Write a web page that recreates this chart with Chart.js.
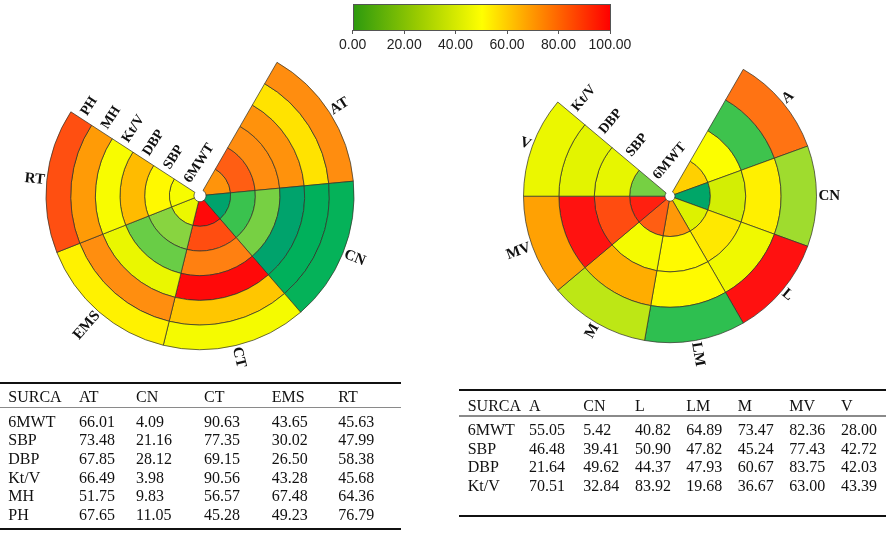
<!DOCTYPE html>
<html><head><meta charset="utf-8">
<script src="https://cdn.jsdelivr.net/npm/chart.js@4.4.1/dist/chart.umd.min.js"></script>
<style>
html,body{margin:0;padding:0;background:#fff;}
#wrap{position:relative;width:886px;height:540px;overflow:hidden;font-family:"Liberation Serif","Times New Roman",serif;}
canvas{position:absolute;}
.t{position:absolute;font-size:16px;line-height:18px;white-space:nowrap;color:#111;}
.rule{position:absolute;background:#111;}
.cb{position:absolute;font-family:"Liberation Sans",Arial,sans-serif;font-size:14px;line-height:16px;color:#222;transform:translateX(-50%);white-space:nowrap;}
.tick{position:absolute;width:1px;height:4px;background:#555;top:30px;}
</style></head><body><div id="wrap">
<div id="bar" style="position:absolute;left:352.5px;top:4px;width:258px;height:27px;box-sizing:border-box;border:1px solid #555;background:linear-gradient(to right,#2e9a0e 0%,#9acb00 25%,#ffff00 50%,#ffa000 68%,#ff5a00 82%,#ff0000 100%);"></div>
<canvas id="cl" width="398" height="412" style="left:1px;top:0px;width:398px;height:412px;"></canvas>
<canvas id="cr" width="400" height="412" style="left:470px;top:0px;width:400px;height:412px;"></canvas>
</div>
<script>
// ---- colour bar ticks ----
const barTicks = [0, 20, 40, 60, 80, 100];

// ---- left chart (and table) ----
const leftSectors = ['AT', 'CN', 'CT', 'EMS', 'RT'];
const leftWeights = [1, 1, 1, 1, 1];
const leftRings = ['6MWT', 'SBP', 'DBP', 'Kt/V', 'MH', 'PH'];
const L_6MWT = [66.01, 4.09, 90.63, 43.65, 45.63];
const L_SBP  = [73.48, 21.16, 77.35, 30.02, 47.99];
const L_DBP  = [67.85, 28.12, 69.15, 26.50, 58.38];
const L_KtV  = [66.49, 3.98, 90.56, 43.28, 45.68];
const L_MH   = [51.75, 9.83, 56.57, 67.48, 64.36];
const L_PH   = [67.65, 11.05, 45.28, 49.23, 76.79];

// ---- right chart (and table) ----
const rightSectors = ['A', 'CN', 'L', 'LM', 'M', 'MV', 'V'];
const rightWeights = [1, 1, 1, 1, 1, 1, 1];
const rightRings = ['6MWT', 'SBP', 'DBP', 'Kt/V'];
const R_6MWT = [55.05, 5.42, 40.82, 64.89, 73.47, 82.36, 28.00];
const R_SBP  = [46.48, 39.41, 50.90, 47.82, 45.24, 77.43, 42.72];
const R_DBP  = [21.64, 49.62, 44.37, 47.93, 60.67, 83.75, 42.03];
const R_KtV  = [70.51, 32.84, 83.92, 19.68, 36.67, 63.00, 43.39];

const leftValues = [L_6MWT, L_SBP, L_DBP, L_KtV, L_MH, L_PH];
const rightValues = [R_6MWT, R_SBP, R_DBP, R_KtV];

// colour scale for cells
const stops = [[0,'#009a78'],[10,'#00b05a'],[20,'#30c050'],[30,'#88d440'],[40,'#d8f000'],[47,'#ffff00'],[55,'#ffd000'],[62,'#ffa500'],[68,'#ff8c10'],[72,'#ff6414'],[78,'#ff4a10'],[84,'#ff1010'],[100,'#ff0000']];
function hex(h){return [parseInt(h.slice(1,3),16),parseInt(h.slice(3,5),16),parseInt(h.slice(5,7),16)];}
function colorFor(v){
  for(let i=0;i<stops.length-1;i++){
    const [a,ca]=stops[i],[b,cb]=stops[i+1];
    if(v<=b){const t=(v-a)/(b-a);const A=hex(ca),B=hex(cb);
      return 'rgb('+A.map((x,k)=>Math.round(x+(B[k]-x)*t)).join(',')+')';}
  }
  return stops[stops.length-1][1];
}

const wrap = document.getElementById('wrap');
function addDiv(cls, text, left, top, extra){
  const d=document.createElement('div'); d.className=cls; d.textContent=text;
  d.style.left=left+'px'; d.style.top=top+'px';
  if(extra) Object.assign(d.style, extra);
  wrap.appendChild(d); return d;
}

// colour bar labels
const barL=352.7, barR=610;
barTicks.forEach(v=>{
  const x = barL + (barR-barL)*v/100;
  const tk=document.createElement('div'); tk.className='tick'; tk.style.left=(x-0.5)+'px'; wrap.appendChild(tk);
  addDiv('cb', v.toFixed(2), x, 36.4);
});

// label plugin
const labelPlugin = {
  id:'ringLabels',
  afterDatasetsDraw(chart){
    const ctx = chart.ctx;
    const n = chart.data.datasets.length;
    const outer = chart.getDatasetMeta(0).data;
    ctx.save();
    ctx.fillStyle = '#111';
    ctx.textBaseline = 'middle';
    ctx.font = 'bold 15px "Liberation Serif", "Times New Roman", serif';
    outer.forEach((arc, i) => {
      const a = (arc.startAngle + arc.endAngle)/2;
      const r = arc.outerRadius + 2;
      ctx.save();
      ctx.translate(arc.x + Math.cos(a)*r, arc.y + Math.sin(a)*r);
      if (Math.cos(a) < -1e-6) { ctx.rotate(a + Math.PI); ctx.textAlign='right'; }
      else { ctx.rotate(a); ctx.textAlign='left'; }
      ctx.fillText(chart.data.labels[i], 0, 0);
      ctx.restore();
    });
    ctx.font = 'bold 14px "Liberation Serif", "Times New Roman", serif';
    for (let d=0; d<n; d++){
      const meta = chart.getDatasetMeta(d);
      const last = meta.data[meta.data.length-1];
      const e = last.endAngle;
      const rm = (last.innerRadius + last.outerRadius)/2;
      const ux=Math.cos(e), uy=Math.sin(e), vx=-Math.sin(e), vy=Math.cos(e);
      ctx.save();
      ctx.translate(last.x + ux*rm + vx*5, last.y + uy*rm + vy*5);
      ctx.rotate(e + Math.PI/2);
      ctx.textAlign='left';
      ctx.fillText(chart.data.datasets[d].label, 0, 0);
      ctx.restore();
    }
    ctx.restore();
  }
};

function makeChart(id, sectors, weights, rings, values, circ, radius, cutout){
  const datasets = rings.map((nm,i)=>({
    label: nm, data: weights, backgroundColor: values[i].map(colorFor)
  })).reverse();
  return new Chart(document.getElementById(id), {
    type:'doughnut',
    data:{labels: sectors, datasets},
    options:{
      responsive:false, animation:false, events:[],
      rotation:30, circumference:circ, radius:radius, cutout:cutout,
      layout:{padding:0},
      elements:{arc:{borderColor:'rgba(50,50,40,0.9)', borderWidth:0.8, borderAlign:'center'}},
      plugins:{legend:{display:false}, tooltip:{enabled:false}}
    },
    plugins:[labelPlugin]
  });
}
makeChart('cl', leftSectors, leftWeights, leftRings, leftValues, 273, 154, '3.9%');
makeChart('cr', rightSectors, rightWeights, rightRings, rightValues, 280, 146.5, '3.4%');

// ---- tables ----
function makeTable(x0, x1, cols, sectors, rings, values, topRule, headerY, grayY, firstRowY, step, bottomRule){
  const rule=(y,h,color)=>{const d=document.createElement('div');d.className='rule';
    Object.assign(d.style,{left:x0+'px',top:y+'px',width:(x1-x0)+'px',height:h+'px',background:color});wrap.appendChild(d);};
  rule(topRule,2,'#111'); rule(grayY,1.3,'#8a8a8a'); rule(bottomRule,2.2,'#111');
  const off=9.1;
  addDiv('t','SURCA',cols[0],headerY-off);
  sectors.forEach((s,j)=>addDiv('t',s,cols[j+1],headerY-off));
  rings.forEach((r,i)=>{
    const y=firstRowY+i*step-off;
    addDiv('t',r,cols[0],y);
    values[i].forEach((v,j)=>addDiv('t',v.toFixed(2),cols[j+1],y));
  });
}
makeTable(0, 401, [8.3,79,136,204,271.7,338.3], leftSectors, leftRings, leftValues, 382.3, 396.7, 406.8, 421.7, 18.66, 527.8);
makeTable(459, 886, [467.7,529,583.3,635,686.2,737.7,789.3,841], rightSectors, rightRings, rightValues, 389, 406, 415.3, 430, 18.67, 515.2);
</script>
</body></html>
